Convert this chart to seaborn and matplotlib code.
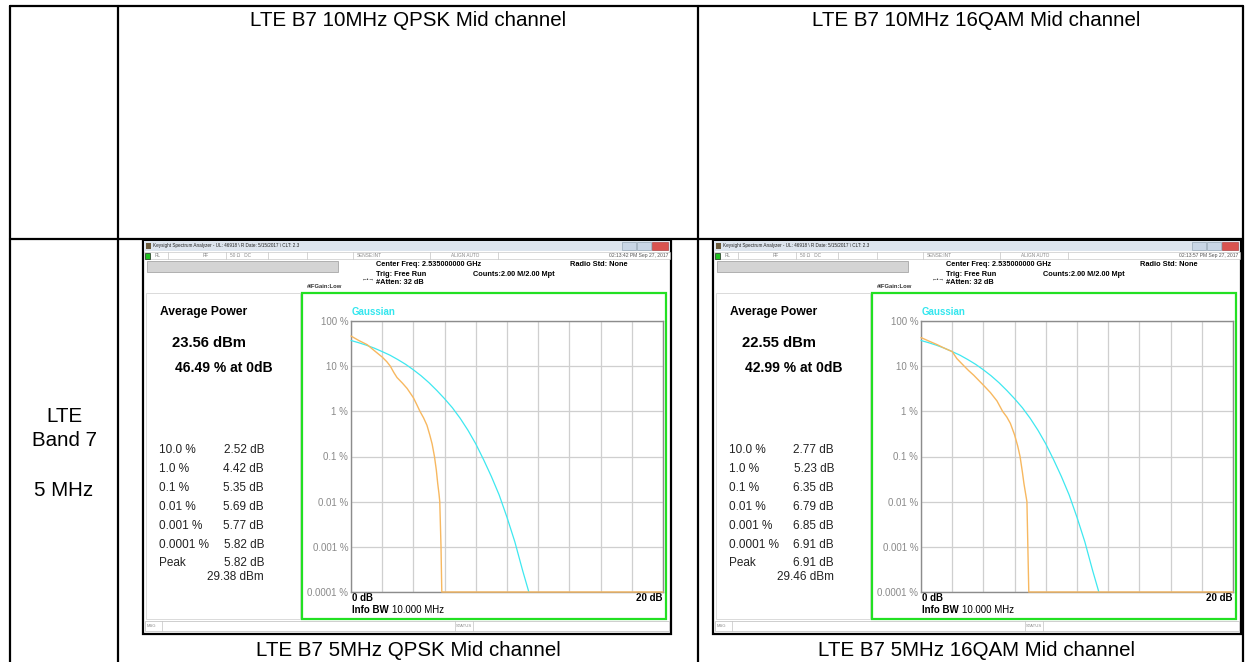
import numpy as np
import pandas as pd
import matplotlib.pyplot as plt
import seaborn as sns
from matplotlib.patches import Rectangle

# ---- values ----
col_titles = ['LTE B7 10MHz QPSK Mid channel', 'LTE B7 10MHz 16QAM Mid channel']
col_captions = ['LTE B7 5MHz QPSK Mid channel', 'LTE B7 5MHz 16QAM Mid channel']
row_label = ['LTE', 'Band 7', '', '5 MHz']

timestamps = ['02:13:42 PM Sep 27, 2017', '02:13:57 PM Sep 27, 2017']
avg_power = ['23.56 dBm', '22.55 dBm']
pct_at_0db = ['46.49 % at 0dB', '42.99 % at 0dB']
ccdf_levels = ['10.0 %', '1.0 %', '0.1 %', '0.01 %', '0.001 %', '0.0001 %']
qpsk_stats = ['2.52 dB', '4.42 dB', '5.35 dB', '5.69 dB', '5.77 dB', '5.82 dB']
qam_stats = ['2.77 dB', '5.23 dB', '6.35 dB', '6.79 dB', '6.85 dB', '6.91 dB']
peak_db = ['5.82 dB', '6.91 dB']
peak_dbm = ['29.38 dBm', '29.46 dBm']

# measured CCDF traces (dB above average, % of samples)
qpsk_db = [0, 0.5, 1.03, 1.5, 2.0, 2.3, 2.52, 2.75, 2.95, 3.3, 3.6, 4.0, 4.2, 4.42, 4.65, 4.87, 5.05,
           5.2, 5.35, 5.47, 5.56, 5.64, 5.69, 5.77, 5.82, 20]
qpsk_pct = [46.5, 37, 30, 22, 15.9, 12.5, 10, 7.2, 5.6, 4.2, 3.2, 2.0, 1.45, 1.0, 0.72, 0.49, 0.3,
            0.19, 0.1, 0.05, 0.025, 0.015, 0.01, 0.001, 0.0001, 0.0001]
qam_db = [0, 0.5, 1.03, 1.5, 2.0, 2.3, 2.77, 3.05, 3.38, 4.0, 4.45, 4.87, 5.23, 5.5, 5.73, 6.0, 6.2,
          6.35, 6.5, 6.6, 6.72, 6.79, 6.85, 6.91, 20]
qam_pct = [42.99, 36, 30, 25, 21, 14.7, 10, 8.0, 6.3, 3.8, 2.6, 1.7, 1.0, 0.75, 0.54, 0.3, 0.17,
           0.1, 0.045, 0.025, 0.014, 0.01, 0.001, 0.0001, 0.0001]
# Gaussian reference trace
gauss_db = [0, 0.5, 1, 1.5, 2, 2.5, 3, 3.5, 4, 4.5, 5, 5.5, 6, 6.5, 7, 7.5, 8, 8.5, 9, 9.5, 10,
            10.5, 11, 11.4]
gauss_pct = [37, 33, 29, 25, 21, 17.5, 14, 11, 8.3, 6.1, 4.3, 2.9, 1.9, 1.2, 0.7, 0.38, 0.19,
             0.085, 0.036, 0.014, 0.0045, 0.0013, 0.0003, 0.0001]

ytick_vals = [100, 10, 1, 0.1, 0.01, 0.001, 0.0001]
ytick_labels = ['100 %', '10 %', '1 %', '0.1 %', '0.01 %', '0.001 %', '0.0001 %']

sns.set_style('white')
plt.rcParams['font.family'] = ['Liberation Sans', 'DejaVu Sans']
plt.rcParams['text.color'] = 'black'

W, H = 1251, 662
fig = plt.figure(figsize=(W / 100, H / 100), dpi=100)
bg = fig.add_axes([0, 0, 1, 1])
bg.set_xlim(0, W)
bg.set_ylim(H, 0)
bg.axis('off')


def px_axes(x0, y0, x1, y1):
    return fig.add_axes([x0 / W, 1 - y1 / H, (x1 - x0) / W, (y1 - y0) / H])


def rect(x0, y0, x1, y1, fc='none', ec='none', lw=0.7, z=1):
    bg.add_patch(Rectangle((x0, y0), x1 - x0, y1 - y0, facecolor=fc, edgecolor=ec, lw=lw, zorder=z))


# table grid
for x in [10, 118, 698, 1243]:
    bg.plot([x, x], [6, H], color='black', lw=1.6)
bg.plot([10, 1243], [6, 6], color='black', lw=1.6)
bg.plot([10, 1243], [239, 239], color='black', lw=1.6)

tfs = 14.8
bg.text(408, 20, col_titles[0], ha='center', va='center', fontsize=tfs)
bg.text(976, 20, col_titles[1], ha='center', va='center', fontsize=tfs)
bg.text(408, 651, col_captions[0], ha='center', va='center', fontsize=tfs)
bg.text(976, 651, col_captions[1], ha='center', va='center', fontsize=tfs)
for k, s in enumerate(row_label):
    bg.text(64, 416 + k * 25, s, ha='center', va='center', fontsize=tfs)

panels = [
    (0, qpsk_db, qpsk_pct, qpsk_stats),
    (570, qam_db, qam_pct, qam_stats),
]

for i, (dx, tr_db, tr_pct, stats) in enumerate(panels):
    # window frame
    rect(143 + dx, 240, 671 + dx, 634, fc='white', ec='black', lw=1.6, z=1)
    # title bar
    rect(144 + dx, 241, 670 + dx, 251, fc='#dde5ee', z=2)
    rect(146 + dx, 243, 151 + dx, 249, fc='#6b5a3a', z=3)
    bg.text(153 + dx, 246, 'Keysight Spectrum Analyzer - UL: 46918 \\ R Date: 5/15/2017 \\ CLT: 2.3',
            fontsize=3.3, va='center', color='#222222', zorder=3)
    rect(622 + dx, 242, 636 + dx, 250, fc='#c9d6e6', ec='#8899aa', lw=0.4, z=3)
    rect(637 + dx, 242, 651 + dx, 250, fc='#c9d6e6', ec='#8899aa', lw=0.4, z=3)
    rect(652 + dx, 242, 668 + dx, 250, fc='#d9534f', ec='#a33', lw=0.4, z=3)
    # status row
    rect(144 + dx, 252, 670 + dx, 259, fc='white', ec='#bbbbbb', lw=0.4, z=2)
    rect(145 + dx, 253, 150 + dx, 259, fc='#1fc21f', ec='black', lw=0.4, z=3)
    for sx in [168, 226, 268, 307, 353, 430, 498]:
        bg.plot([sx + dx, sx + dx], [252, 259], color='#c4c4c4', lw=0.5, zorder=3)
    for sx, s in [(155, 'RL'), (203, 'RF'), (230, '50 \u03a9   DC'), (357, 'SENSE:INT'), (451, 'ALIGN AUTO')]:
        bg.text(sx + dx, 255.5, s, fontsize=3.4, va='center', color='#888888', zorder=3)
    bg.text(668 + dx, 255.5, timestamps[i], fontsize=3.6, va='center', ha='right', color='#555555', zorder=3)
    # settings block
    rect(147 + dx, 261, 338 + dx, 272, fc='#d4d4d4', ec='#999999', lw=0.5, z=2)
    hfs = 5.3
    bg.text(376 + dx, 265, 'Center Freq: 2.535000000 GHz', fontsize=hfs, weight='bold', va='center')
    bg.text(376 + dx, 274, 'Trig: Free Run', fontsize=hfs, weight='bold', va='center')
    bg.text(376 + dx, 283, '#Atten: 32 dB', fontsize=hfs, weight='bold', va='center')
    bg.text(473 + dx, 274, 'Counts:2.00 M/2.00 Mpt', fontsize=hfs, weight='bold', va='center')
    bg.text(570 + dx, 265, 'Radio Std: None', fontsize=hfs, weight='bold', va='center')
    bg.text(307 + dx, 287, '#IFGain:Low', fontsize=4.2, weight='bold', va='center', color='#333333')
    bg.text(362 + dx, 280, '\u2190\u2022\u2192', fontsize=4, va='center', color='#333333')
    # left readout panel
    rect(146 + dx, 293, 300 + dx, 619, fc='white', ec='#cccccc', lw=0.5, z=2)
    bg.text(160 + dx, 312, 'Average Power', fontsize=8.7, weight='bold', va='center', zorder=3)
    bg.text(172 + dx, 343, avg_power[i], fontsize=10.6, weight='bold', va='center', zorder=3)
    bg.text(175 + dx, 368, pct_at_0db[i], fontsize=10, weight='bold', va='center', zorder=3)
    for k, (lvl, val) in enumerate(zip(ccdf_levels, stats)):
        yy = 450 + k * 18.9
        bg.text(159 + dx, yy, lvl, fontsize=8.5, va='center', color='#222222', zorder=3)
        bg.text(264 + dx, yy, val, fontsize=8.5, va='center', ha='right', color='#222222', zorder=3)
    bg.text(159 + dx, 563, 'Peak', fontsize=8.5, va='center', color='#222222', zorder=3)
    bg.text(264 + dx, 563, peak_db[i], fontsize=8.5, va='center', ha='right', color='#222222', zorder=3)
    bg.text(264 + dx, 577, peak_dbm[i], fontsize=8.5, va='center', ha='right', color='#222222', zorder=3)
    # green graph frame
    rect(302 + dx, 293, 666 + dx, 619, fc='white', ec='#22e022', lw=1.6, z=2)
    bg.text(352 + dx, 312, 'Gaussian', fontsize=7, weight='bold', color='#33e6ee', va='center', zorder=3)
    bg.text(352 + dx, 598, '0 dB', fontsize=7, weight='bold', va='center', zorder=3)
    bg.text(663 + dx, 598, '20 dB', fontsize=7, weight='bold', va='center', ha='right', zorder=3)
    bg.text(352 + dx, 610, 'Info BW', fontsize=7, weight='bold', va='center', zorder=3)
    bg.text(392 + dx, 610, '10.000 MHz', fontsize=7, va='center', zorder=3)
    # MSG bar
    rect(145 + dx, 621, 669 + dx, 631, fc='white', ec='#bbbbbb', lw=0.5, z=2)
    for sx in [162, 455, 473]:
        bg.plot([sx + dx, sx + dx], [621, 631], color='#c4c4c4', lw=0.5, zorder=3)
    bg.text(147 + dx, 626, 'MSG', fontsize=3, va='center', color='#888888', zorder=3)
    bg.text(456 + dx, 626, 'STATUS', fontsize=3, va='center', color='#888888', zorder=3)

    # CCDF plot
    ax = px_axes(351 + dx, 321, 663 + dx, 592)
    ax.set_zorder(5)
    df_meas = pd.DataFrame({'dB': tr_db, 'pct': tr_pct})
    df_gauss = pd.DataFrame({'dB': gauss_db, 'pct': gauss_pct})
    sns.lineplot(data=df_gauss, x='dB', y='pct', ax=ax, color='#3ee8f0', lw=0.9,
                 sort=False, estimator=None, clip_on=False, zorder=4)
    sns.lineplot(data=df_meas, x='dB', y='pct', ax=ax, color='#f7b860', lw=1.0,
                 sort=False, estimator=None, clip_on=False, zorder=4)
    ax.set_yscale('log')
    ax.set_xlim(0, 20)
    ax.set_ylim(0.0001, 100)
    ax.set_xticks(np.arange(0, 21, 2))
    ax.set_xticklabels([])
    ax.set_yticks(ytick_vals)
    ax.set_yticklabels(ytick_labels)
    ax.minorticks_off()
    ax.tick_params(axis='y', length=0, pad=2, labelsize=7, labelcolor='#8a8a8a')
    ax.tick_params(axis='x', length=0)
    ax.grid(True, color='#cfcfcf', lw=0.9)
    ax.set_xlabel('')
    ax.set_ylabel('')
    for sp in ax.spines.values():
        sp.set_color('#8c8c8c')
        sp.set_linewidth(1.0)

fig.savefig('out.png', dpi=100)
